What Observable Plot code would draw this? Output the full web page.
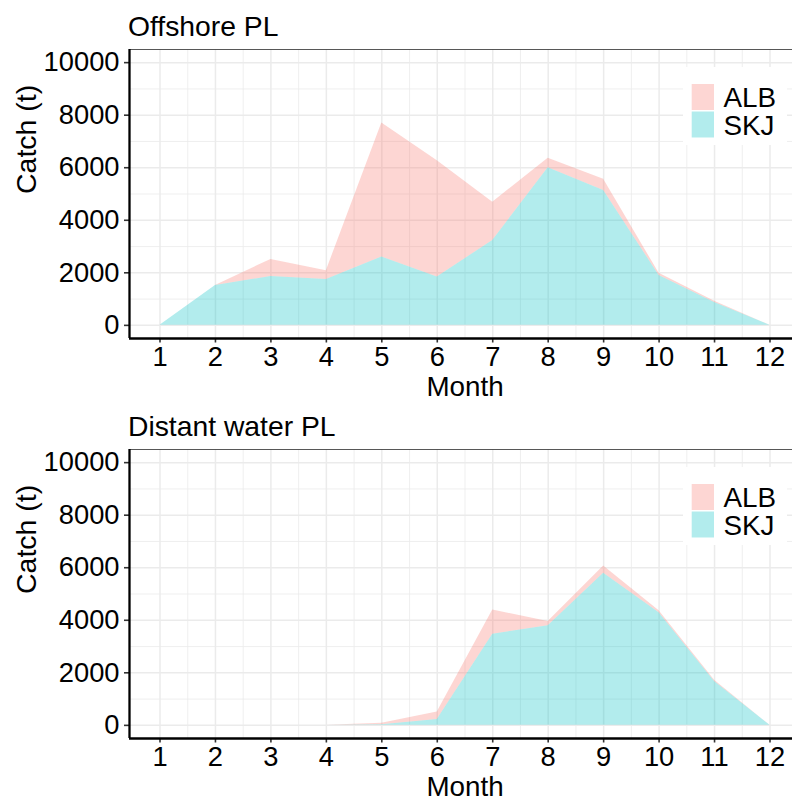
<!DOCTYPE html>
<html>
<head>
<meta charset="utf-8">
<script src="https://cdn.jsdelivr.net/npm/d3@7"></script>
<script src="https://cdn.jsdelivr.net/npm/@observablehq/plot@0.6"></script>
<style>
  html, body { margin: 0; padding: 0; background: #fff; overflow: hidden; }
  #chart { position: relative; width: 792px; height: 800px; overflow: hidden;
           font-family: "Liberation Sans", Arial, sans-serif; }
  .panel { position: relative; width: 792px; height: 400px; overflow: hidden; }
  .title { height: 44px; box-sizing: border-box; padding-left: 128px; padding-top: 12px;
           font-size: 28.3px; line-height: 28.3px; color: #000; white-space: nowrap; }
  .legend { position: absolute; left: 683px; top: 67px; }
</style>
</head>
<body>
<div id="chart"></div>
<script>
// Monthly pole-and-line catch (t) by species
const months = [1, 2, 3, 4, 5, 6, 7, 8, 9, 10, 11, 12];
const species = ["ALB", "SKJ"];
const speciesColors = ["#F8766D", "#00BFC4"];

const offshoreALB = [0, 0, 650, 330, 5100, 4430, 1460, 365, 430, 80, 50, 0];
const offshoreSKJ = [0, 1520, 1860, 1750, 2600, 1840, 3230, 6000, 5130, 1900, 870, 0];

const distantALB = [0, 0, 0, 0, 60, 290, 920, 160, 280, 75, 50, 0];
const distantSKJ = [0, 0, 0, 0, 20, 220, 3470, 3790, 5790, 4290, 1670, 0];

const yTicks = [0, 2000, 4000, 6000, 8000, 10000];
const yMinor = [1000, 3000, 5000, 7000, 9000];
const xMinor = [1.5, 2.5, 3.5, 4.5, 5.5, 6.5, 7.5, 8.5, 9.5, 10.5, 11.5, 12.5];
const xDomain = [0.45, 12.55];
const yDomain = [-500, 10500];

const font = '"Liberation Sans", Arial, sans-serif';

function toRows(alb, skj) {
  return months.flatMap((m, i) => [
    {month: m, species: "ALB", catch: alb[i]},
    {month: m, species: "SKJ", catch: skj[i]}
  ]);
}

function legend() {
  const svg = d3.create("svg")
    .attr("class", "legend")
    .attr("width", 104)
    .attr("height", 78)
    .style("font-family", font);
  svg.append("rect").attr("width", 104).attr("height", 78).attr("fill", "#fff");
  const row = svg.selectAll("g").data(species).join("g")
    .attr("transform", (d, i) => `translate(0, ${17 + i * 27.5})`);
  row.append("rect")
    .attr("x", 8.7).attr("width", 22.3).attr("height", 26)
    .attr("fill", (d, i) => speciesColors[i]).attr("fill-opacity", 0.3);
  row.append("text")
    .attr("x", 40.5).attr("y", 23.3)
    .attr("font-size", 27.8).attr("fill", "#000")
    .text(d => d);
  return svg.node();
}

function panel(title, data) {
  const wrap = document.createElement("div");
  wrap.className = "panel";
  const t = document.createElement("div");
  t.className = "title";
  t.textContent = title;
  wrap.append(t);

  const grid = {stroke: "#EBEBEB"};
  const plot = Plot.plot({
    width: 800,
    height: 356,
    marginTop: 5,
    marginBottom: 62,
    marginLeft: 129,
    marginRight: 0,
    style: {fontFamily: font, color: "#000", background: "#fff", maxWidth: "none", overflow: "visible"},
    x: {domain: xDomain},
    y: {domain: yDomain},
    color: {domain: species, range: speciesColors},
    marks: [
      Plot.ruleX(xMinor, {...grid, strokeWidth: 0.8}),
      Plot.ruleY(yMinor, {...grid, strokeWidth: 0.8}),
      Plot.ruleX(months, {...grid, strokeWidth: 1.5}),
      Plot.ruleY(yTicks, {...grid, strokeWidth: 1.5}),
      Plot.areaY(data, Plot.stackY({
        x: "month", y: "catch", fill: "species",
        order: ["SKJ", "ALB"], fillOpacity: 0.3
      })),
      Plot.ruleY([yDomain[1]], {stroke: "#444", strokeWidth: 0.9}),
      Plot.axisY(yTicks, {
        tickSize: 5, tickPadding: 5, tickFormat: d3.format("d"),
        fontSize: 27.3, stroke: "#333", strokeWidth: 1.6, label: null
      }),
      Plot.axisX(months, {
        tickSize: 4.5, tickPadding: 4, tickFormat: d3.format("d"),
        fontSize: 27.3, stroke: "#333", strokeWidth: 1.6, label: null
      }),
      Plot.ruleX([xDomain[0]], {stroke: "#000", strokeWidth: 2.3}),
      Plot.ruleY([yDomain[0]], {stroke: "#000", strokeWidth: 2.6}),
      Plot.text(["Catch (t)"], {
        frameAnchor: "left", rotate: -90, lineAnchor: "top",
        dx: -114, fontSize: 28.5, fill: "#000"
      }),
      Plot.text(["Month"], {
        frameAnchor: "bottom", lineAnchor: "bottom",
        dy: 57, fontSize: 27.8, fill: "#000"
      })
    ]
  });
  wrap.append(plot);

  wrap.append(legend());
  return wrap;
}

const chart = document.getElementById("chart");
chart.append(panel("Offshore PL", toRows(offshoreALB, offshoreSKJ)));
chart.append(panel("Distant water PL", toRows(distantALB, distantSKJ)));
</script>
</body>
</html>
